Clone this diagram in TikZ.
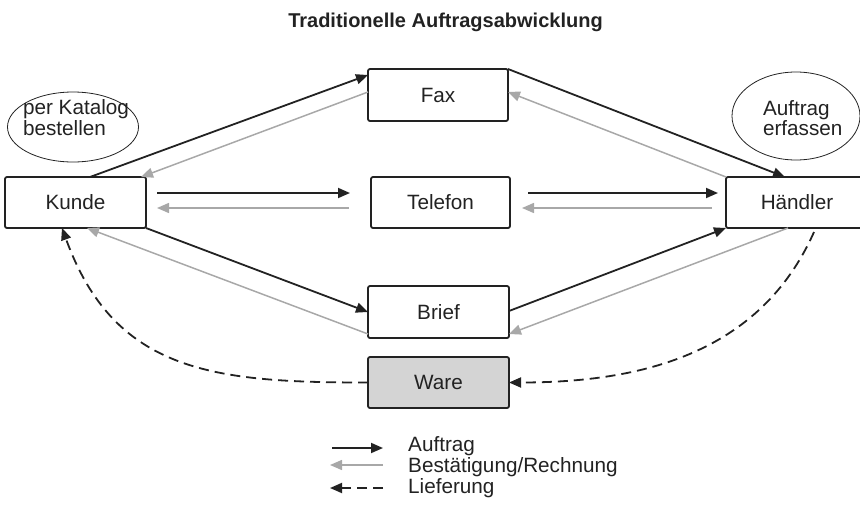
\documentclass[tikz,border=0pt]{standalone}
\usepackage{fontspec}
\setmainfont{Liberation Sans}
\usetikzlibrary{arrows.meta,calc,shapes.geometric}
\definecolor{lgray}{HTML}{A8A8A8}
\definecolor{wfill}{HTML}{D4D4D4}
\definecolor{ink}{HTML}{222222}
\begin{document}
\begin{tikzpicture}[x=1pt,y=-1pt,
  txt/.style={font=\fontsize{20.7}{20.7}\selectfont, text=ink},
  box/.style={txt, draw=ink, line width=1.8pt, rounded corners=2pt,
    minimum width=141pt, minimum height=51pt, inner sep=0pt, outer sep=0pt},
  bubble/.style={draw=ink, line width=0.8pt},
  tip/.style={-{Triangle[length=12pt,width=10pt]}},
  order/.style={ink, line width=1.8pt, tip},
  confirm/.style={lgray, line width=1.5pt, tip},
  deliver/.style={ink, line width=1.8pt, dash pattern=on 10pt off 6pt, tip},
]
\useasboundingbox (0,0) rectangle (860,504);

% title
\node[font=\fontsize{20}{20}\selectfont\bfseries, text=ink, anchor=base] (title) at (445.5,27) {Traditionelle Auftragsabwicklung};

% boxes
\node[box] (kunde) at (75.5,202.5) {Kunde};
\node[box, minimum width=140pt, minimum height=52pt] (fax) at (438,95) {Fax};
\node[box, minimum width=139pt] (telefon) at (440.5,202.5) {Telefon};
\node[box, minimum width=142pt] (haendler) at (797,202.5) {Händler};
\node[box, minimum height=52pt] (brief) at (438.5,312) {Brief};
\node[box, fill=wfill] (ware) at (438.5,382.5) {Ware};

% bubbles
\coordinate (e1) at (73,127);
\draw[bubble] (e1) ellipse [x radius=65.5pt, y radius=35pt];
\node[txt, align=left] (e1t) at (76,117.5) {per Katalog\\bestellen};
\coordinate (e2) at (796,116);
\draw[bubble] (e2) ellipse [x radius=64pt, y radius=44pt];
\node[txt, align=left] (e2t) at (802.7,118) {Auftrag\\erfassen};

% Fax
\draw[order] ([xshift=14.5pt]kunde.north) -- ([yshift=20pt]fax.west);
\draw[confirm] ([yshift=3pt]fax.west) -- ([xshift=-5pt]kunde.north east);
\draw[order] (fax.north east) -- ([xshift=-12pt]haendler.north);
\draw[confirm] (haendler.north west) -- ([yshift=3pt]fax.east);

% Telefon
\draw[order] ([xshift=11pt,yshift=9.5pt]kunde.east) -- ([xshift=-21pt,yshift=9.5pt]telefon.west);
\draw[confirm] ([xshift=-22pt,yshift=-5.5pt]telefon.west) -- ([xshift=11pt,yshift=-5.5pt]kunde.east);
\draw[order] ([xshift=18pt,yshift=9.5pt]telefon.east) -- ([xshift=-8pt,yshift=9.5pt]haendler.west);
\draw[confirm] ([xshift=-14pt,yshift=-5.5pt]haendler.west) -- ([xshift=12pt,yshift=-5.5pt]telefon.east);

% Brief
\draw[order] (kunde.south east) -- (brief.west);
\draw[confirm] ([yshift=4pt]brief.south west) -- ([xshift=11.5pt]kunde.south);
\draw[order] ([yshift=1pt]brief.east) -- (haendler.south west);
\draw[confirm] ([xshift=-9pt]haendler.south) -- ([yshift=4pt]brief.south east);

% Lieferung
\draw[deliver] (ware.west) to[out=180,in=-70,looseness=1.15] ([xshift=-13.5pt]kunde.south);
\draw[deliver] ([xshift=17pt,yshift=-4pt]haendler.south) to[out=-114,in=0] (ware.east);

% legend
\coordinate (a1) at (332,448);
\coordinate (a2) at (383,448);
\coordinate (b1) at (383,465);
\coordinate (b2) at (330,465);
\coordinate (c1) at (383,488);
\coordinate (c2) at (330,488);
\draw[order] (a1) -- (a2);
\draw[confirm] (b1) -- (b2);
\draw[deliver] (c1) -- (c2);
\node[font=\fontsize{20.7}{21.1}\selectfont, text=ink, align=left, anchor=west, inner sep=0pt] (legend) at (408,467.5)
  {Auftrag\\Bestätigung/Rechnung\\Lieferung};
\end{tikzpicture}
\end{document}
